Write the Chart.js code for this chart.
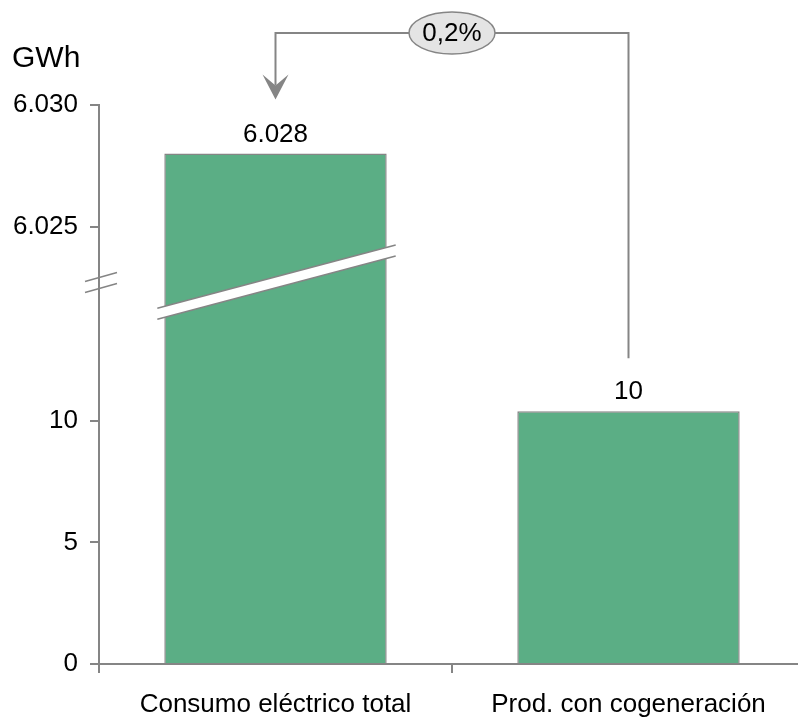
<!DOCTYPE html>
<html>
<head>
<meta charset="utf-8">
<script src="https://cdn.jsdelivr.net/npm/chart.js@4.4.1/dist/chart.umd.min.js"></script>
<style>
html,body{margin:0;padding:0;overflow:hidden;background:#fff;}
#wrap{width:805px;height:717px;position:relative;}
</style>
</head>
<body>
<div id="wrap"><canvas id="c" width="805" height="717"></canvas></div>
<script>
// ---- data ----
const categories = ["Consumo eléctrico total", "Prod. con cogeneración"];
const values = [6028, 10.4];
const tickValues = [0, 5, 10, 6025, 6030];
const tickLabels = ["0", "5", "10", "6.025", "6.030"];
const shareLabel = "0,2%";
const unitLabel = "GWh";

// broken axis: values above the break are shifted down by this offset
const breakAbove = 15;
const breakOffset = 6007;
const breakCenter = 15.7;
function toAxis(v){ return v > breakAbove ? v - breakOffset : v; }
function fmt(v){
  const s = String(Math.round(v));
  return s.replace(/\B(?=(\d{3})+(?!\d))/g, ".");
}

const GRAY = "#858585";
const FONT = "'Liberation Sans', Arial, sans-serif";

const overlay = {
  id: "overlay",
  afterDatasetsDraw(chart){
    const ctx = chart.ctx;
    const meta = chart.getDatasetMeta(0);
    const ys = chart.scales.y;
    const area = chart.chartArea;
    const b1 = meta.data[0], b2 = meta.data[1];
    ctx.save();
    // value labels
    ctx.fillStyle = "#000";
    ctx.font = "26px " + FONT;
    ctx.textAlign = "center";
    ctx.textBaseline = "alphabetic";
    meta.data.forEach((bar, i) => {
      ctx.fillText(fmt(values[i]), bar.x, bar.y - 12);
    });
    // break band on the first bar
    const yc = ys.getPixelForValue(breakCenter);
    const half = b1.width / 2;
    const x0 = b1.x - half - 7, x1 = b1.x + half + 9;
    const slope = -0.265;
    const th = 5.5;
    const yl = yc - slope * (b1.x - x0), yr = yc + slope * (x1 - b1.x);
    ctx.beginPath();
    ctx.moveTo(x0, yl - th); ctx.lineTo(x1, yr - th);
    ctx.lineTo(x1, yr + th); ctx.lineTo(x0, yl + th); ctx.closePath();
    ctx.fillStyle = "#fff"; ctx.fill();
    ctx.strokeStyle = GRAY; ctx.lineWidth = 1.5;
    ctx.beginPath(); ctx.moveTo(x0, yl - th); ctx.lineTo(x1, yr - th); ctx.stroke();
    ctx.beginPath(); ctx.moveTo(x0, yl + th); ctx.lineTo(x1, yr + th); ctx.stroke();
    // axis break marks
    const ax = area.left;
    [-5.5, 5.5].forEach(d => {
      ctx.beginPath();
      ctx.moveTo(ax - 14, yc + d + 4.5);
      ctx.lineTo(ax + 18, yc + d - 4.5);
      ctx.stroke();
    });
    // connector / arrow
    const hy = area.top - 72;
    const startY = b2.y - 53;
    const tipY = b1.y - 54;
    ctx.lineWidth = 2;
    ctx.strokeStyle = GRAY;
    ctx.beginPath();
    ctx.moveTo(b2.x, startY);
    ctx.lineTo(b2.x, hy);
    ctx.lineTo(b1.x, hy);
    ctx.lineTo(b1.x, tipY - 14);
    ctx.stroke();
    ctx.fillStyle = GRAY;
    ctx.beginPath();
    ctx.moveTo(b1.x, tipY);
    ctx.lineTo(b1.x - 13, tipY - 25);
    ctx.lineTo(b1.x, tipY - 14);
    ctx.lineTo(b1.x + 13, tipY - 25);
    ctx.closePath();
    ctx.fill();
    // ellipse label
    const ex = (b1.x + b2.x) / 2;
    ctx.beginPath();
    ctx.ellipse(ex, hy, 43, 21, 0, 0, Math.PI * 2);
    ctx.fillStyle = "#e4e4e4"; ctx.fill();
    ctx.lineWidth = 1.5; ctx.strokeStyle = GRAY; ctx.stroke();
    ctx.fillStyle = "#000";
    ctx.font = "26px " + FONT;
    ctx.textBaseline = "middle";
    ctx.fillText(shareLabel, ex, hy + 1);
    // unit
    ctx.textAlign = "left";
    ctx.textBaseline = "alphabetic";
    ctx.font = "30px " + FONT;
    ctx.fillText(unitLabel, 12, 67);
    ctx.restore();
  }
};

new Chart(document.getElementById("c"), {
  type: "bar",
  data: {
    labels: categories,
    datasets: [{
      data: values.map(toAxis),
      backgroundColor: "#5bae85",
      borderColor: GRAY,
      borderWidth: 1.5,
      barPercentage: 0.63,
      categoryPercentage: 1
    }]
  },
  options: {
    responsive: false,
    animation: false,
    layout: { padding: { top: 105, right: 0, left: 0, bottom: 0 } },
    plugins: { legend: { display: false }, tooltip: { enabled: false } },
    scales: {
      x: {
        offset: true,
        grid: { display: true, drawOnChartArea: false, offset: true, tickLength: 9, color: GRAY, lineWidth: 2 },
        border: { color: GRAY, width: 2 },
        ticks: { color: "#000", font: { family: FONT, size: 26 }, padding: 16, maxRotation: 0, autoSkip: false },
        afterFit(s){ s.height = 53; }
      },
      y: {
        min: 0,
        max: toAxis(6030),
        afterBuildTicks(s){ s.ticks = tickValues.map(v => ({ value: toAxis(v) })); },
        grid: { display: true, drawOnChartArea: false, tickLength: 9, color: GRAY, lineWidth: 2 },
        border: { color: GRAY, width: 2 },
        ticks: {
          color: "#000", font: { family: FONT, size: 26 }, padding: 12,
          callback(value){ const i = tickValues.findIndex(v => toAxis(v) === value); return i >= 0 ? tickLabels[i] : ""; }
        },
        afterFit(s){ s.width = 99; }
      }
    }
  },
  plugins: [overlay]
});
</script>
</body>
</html>
